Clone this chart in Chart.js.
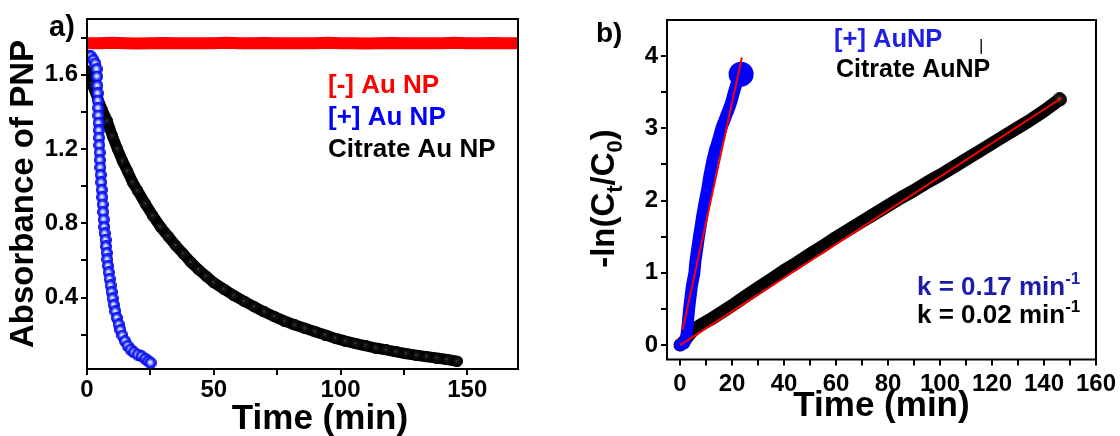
<!DOCTYPE html>
<html><head><meta charset="utf-8">
<script src="https://cdn.jsdelivr.net/npm/chart.js@4.4.1/dist/chart.umd.min.js"></script>
<style>
html,body{margin:0;padding:0;background:#fff;width:1120px;height:436px;overflow:hidden}
#wa{position:absolute;left:0;top:0;width:560px;height:436px}
#wb{position:absolute;left:560px;top:0;width:560px;height:436px}
</style></head><body>
<div id="wa"><canvas id="ca" width="560" height="436"></canvas></div>
<div id="wb"><canvas id="cb" width="560" height="436"></canvas></div>
<script>
// ---------- Panel a data ----------
const redTimeA = [0,5,10,15,20,25,30,35,40,45,50,55,60,65,70,75,80,85,90,95,100,105,110,115,120,125,130,135,140,145,150,155,160,165,170];
const redAbsA  = [1.77,1.77,1.772,1.77,1.768,1.77,1.771,1.77,1.77,1.769,1.77,1.772,1.77,1.77,1.771,1.77,1.769,1.77,1.77,1.772,1.77,1.77,1.768,1.77,1.771,1.77,1.77,1.769,1.77,1.772,1.77,1.77,1.771,1.77,1.77];
const blueTimeA = [0.5,1.5,2.5,3.3,3.8,4.0,4.1,4.2,4.3,4.4,4.5,4.6,4.7,4.8,4.9,5.0,5.1,5.3,5.4,5.6,5.8,6.0,6.2,6.4,6.6,6.8,7.0,7.3,7.5,7.8,8.0,8.3,8.6,8.9,9.3,9.7,10.1,10.6,11.2,11.8,12.5,13.2,14.0,15.0,16.0,17.2,18.5,20.0,21.5,23.0,24.2,25.1];
const blueAbsA  = [1.70,1.70,1.68,1.66,1.63,1.59,1.54,1.50,1.46,1.42,1.38,1.34,1.30,1.26,1.22,1.18,1.14,1.10,1.06,1.02,0.98,0.94,0.90,0.86,0.82,0.78,0.745,0.71,0.675,0.64,0.605,0.57,0.535,0.50,0.465,0.43,0.395,0.36,0.325,0.29,0.255,0.225,0.195,0.165,0.14,0.12,0.105,0.093,0.084,0.07,0.058,0.048];
const citTimeA = [0,2,4,6,8,10,12,14,16,18,20,23,26,29,32,35,38,41,44,47,50,54,58,62,66,70,74,78,82,86,90,94,98,102,106,110,114,118,122,126,130,134,138,142,146];
const citAbsA  = [1.62,1.55,1.48,1.41,1.35,1.27,1.20,1.135,1.08,1.02,0.975,0.905,0.84,0.78,0.73,0.68,0.635,0.59,0.55,0.515,0.48,0.445,0.41,0.38,0.35,0.322,0.297,0.273,0.252,0.234,0.216,0.198,0.18,0.165,0.152,0.14,0.128,0.118,0.107,0.097,0.089,0.081,0.074,0.066,0.057];
const xTickValsA = [0,25,50,75,100,125,150];
const xTickLabelsA = ['0','','50','','100','','150'];
const yTickValsA = [0.2,0.4,0.6,0.8,1.0,1.2,1.4,1.6,1.8];
const yTickLabelsA = ['','0.4','','0.8','','1.2','','1.6',''];

// ---------- Panel b data ----------
const blueTimeB = [0,0.5,1,1.5,2,2.5,3,3.5,4,4.5,5,5.5,6,6.5,7,7.5,8,8.5,9,9.5,10,10.5,11,11.5,12,12.5,13,13.5,14,14.5,15,15.5,16,16.5,17,17.5,18,18.5,19,19.5,20,20.5,21,21.5,22,22.5,23,23.5];
const blueLnB   = [0,0,0.01,0.02,0.05,0.14,0.3,0.5,0.65,0.8,0.9,0.99,1.18,1.3,1.43,1.55,1.66,1.78,1.88,1.98,2.07,2.16,2.28,2.38,2.47,2.56,2.63,2.71,2.76,2.82,2.88,2.95,3.01,3.06,3.1,3.15,3.2,3.24,3.29,3.34,3.4,3.47,3.53,3.59,3.65,3.71,3.74,3.75];
const citTimeB = [0,1,2,3,4,5,6,8,10,12,15,18,21,25,30,35,40,45,50,55,60,65,70,75,80,85,90,95,100,105,110,115,120,125,130,135,140,146];
const citLnB   = [0,0.03,0.07,0.12,0.16,0.2,0.23,0.28,0.32,0.36,0.43,0.5,0.57,0.67,0.79,0.91,1.03,1.14,1.26,1.37,1.49,1.6,1.71,1.82,1.93,2.04,2.14,2.25,2.35,2.46,2.57,2.68,2.79,2.9,3.01,3.12,3.24,3.4];
const fitBlueT = [1.0,23.8];
const fitBlueY = [0.21,3.98];
const fitCitT  = [0,146.8];
const fitCitY  = [0.0,3.42];
const xTickValsB = [0,10,20,30,40,50,60,70,80,90,100,110,120,130,140,150,160];
const xTickLabelsB = ['0','','20','','40','','60','','80','','100','','120','','140','','160'];
const yTickValsB = [0,0.5,1,1.5,2,2.5,3,3.5,4];
const yTickLabelsB = ['0','','1','','2','','3','','4'];

// ---------- helpers ----------
const F = '"Liberation Sans", Arial, sans-serif';
const pts = (xs, ys) => xs.map((x, i) => ({x: x, y: ys[i]}));
function sprite(r, stops) {
  const c = document.createElement('canvas'); c.width = c.height = 2 * r;
  const g = c.getContext('2d');
  const gr = g.createRadialGradient(r * 0.9, r * 0.9, 0, r, r, r);
  stops.forEach(s => gr.addColorStop(s[0], s[1]));
  g.fillStyle = gr; g.beginPath(); g.arc(r, r, r, 0, Math.PI * 2); g.fill();
  return c;
}
const spriteBlue = sprite(6, [[0,'#ffffff'],[0.28,'#b8c0ff'],[0.6,'#2030ff'],[1,'#0000e0']]);
const spriteBlack = sprite(5.5, [[0,'#5a5a5a'],[0.25,'#151515'],[1,'#000']]);
const spriteBlackEnd = sprite(7, [[0,'#9a9a9a'],[0.3,'#222'],[1,'#000']]);
const endOnly = (n, r) => Array.from({length: n}, (_, i) => i === n - 1 ? r : 0);

function drawRuns(ctx, runs, x, y, align) {
  let w = 0;
  runs.forEach(r => { ctx.font = r.font; w += ctx.measureText(r.t).width; });
  let cx = align === 'center' ? x - w / 2 : x;
  ctx.textAlign = 'left'; ctx.textBaseline = 'alphabetic';
  runs.forEach(r => { ctx.font = r.font; ctx.fillStyle = r.color; ctx.fillText(r.t, cx, y + (r.dy || 0)); cx += ctx.measureText(r.t).width; });
}
function frame(chart) {
  const a = chart.chartArea, ctx = chart.ctx;
  ctx.save(); ctx.strokeStyle = '#000'; ctx.lineWidth = 2;
  ctx.strokeRect(a.left, a.top, a.right - a.left, a.bottom - a.top); ctx.restore();
}
const B = (s) => 'bold ' + s + 'px ' + F;

const annA = { id: 'annA', afterDraw(chart) {
  const ctx = chart.ctx; frame(chart); ctx.save();
  drawRuns(ctx, [{t:'a)', font:B(29), color:'#000'}], 49, 36);
  drawRuns(ctx, [{t:'[-] Au NP', font:B(26), color:'#ff0000'}], 328, 93);
  drawRuns(ctx, [{t:'[+] Au NP', font:B(26), color:'#0000ff'}], 328, 124.5);
  drawRuns(ctx, [{t:'Citrate Au NP', font:B(26), color:'#000'}], 328, 156.5);
  drawRuns(ctx, [{t:'Time (min)', font:B(35), color:'#000'}], 320, 429, 'center');
  ctx.restore();
}};
const annB = { id: 'annB', afterDraw(chart) {
  const ctx = chart.ctx; frame(chart); ctx.save();
  drawRuns(ctx, [{t:'b)', font:B(28), color:'#000'}], 36, 42);
  drawRuns(ctx, [{t:'[+] AuNP', font:B(25.5), color:'#1e1ee6'}], 274, 46.7);
  drawRuns(ctx, [{t:'|', font:'17px ' + F, color:'#000'}], 419, 51);
  drawRuns(ctx, [{t:'Citrate AuNP', font:B(25), color:'#000'}], 276, 77);
  drawRuns(ctx, [{t:'k = 0.17 min', font:B(26), color:'#1c1ca8'}, {t:'-1', font:B(17), color:'#1c1ca8', dy:-11}], 357, 295);
  drawRuns(ctx, [{t:'k = 0.02 min', font:B(26), color:'#000'}, {t:'-1', font:B(17), color:'#000', dy:-11}], 357, 323.3);
  ctx.translate(54, 198.5); ctx.rotate(-Math.PI / 2);
  drawRuns(ctx, [{t:'-ln(C', font:B(33), color:'#000'}, {t:'t', font:B(22), color:'#000', dy:8},
                 {t:'/C', font:B(33), color:'#000'}, {t:'0', font:B(22), color:'#000', dy:8},
                 {t:')', font:B(33), color:'#000'}], 0, 0, 'center');
  ctx.restore();
}};

function axisX(min, max, vals, labels, h, pad, title) {
  return { type:'linear', min:min, max:max,
    afterBuildTicks: s => { s.ticks = vals.map(v => ({value:v})); },
    afterFit: s => { s.height = h; },
    ticks: { callback: (v, i) => labels[i], font:{family:F, size:24, weight:'bold', lineHeight:1.2}, color:'#000', padding:pad, maxRotation:0, autoSkip:false },
    grid: { drawOnChartArea:false, drawTicks:true, tickLength:6, tickWidth:2, lineWidth:2, tickColor:'#000', color:'#000' },
    border: { display:false },
    title: title || { display:false } };
}
function axisY(min, max, vals, labels, w, title) {
  return { type:'linear', min:min, max:max,
    afterBuildTicks: s => { s.ticks = vals.map(v => ({value:v})); },
    afterFit: s => { s.width = w; },
    ticks: { callback: (v, i) => labels[i], font:{family:F, size:24, weight:'bold', lineHeight:1.2}, color:'#000', padding:3, autoSkip:false },
    grid: { drawOnChartArea:false, drawTicks:true, tickLength:6, tickWidth:2, lineWidth:2, tickColor:'#000', color:'#000' },
    border: { display:false },
    title: title || { display:false } };
}
const common = { responsive:false, animation:false, devicePixelRatio:1,
  plugins:{ legend:{display:false}, tooltip:{enabled:false} } };

new Chart(document.getElementById('ca'), {
  type: 'scatter',
  data: { datasets: [
    { label:'[+] Au NP', data: pts(blueTimeA, blueAbsA), showLine:false, pointStyle: spriteBlue, pointRadius:6, order:0 },
    { label:'Citrate Au NP', data: pts(citTimeA, citAbsA), showLine:true, borderColor:'#000', borderWidth:11, borderJoinStyle:'round', borderCapStyle:'round', tension:0, pointStyle: spriteBlack, pointRadius:5, order:1 },
    { label:'[-] Au NP', data: pts(redTimeA, redAbsA), showLine:true, borderColor:'#ff0000', borderWidth:12, tension:0, pointRadius:0, order:2 }
  ]},
  options: Object.assign({}, common, {
    layout: { padding: { left:0, right:42, top:19, bottom:0 } },
    scales: {
      x: axisX(0, 170, xTickValsA, xTickLabelsA, 67, 1),
      y: axisY(0.015, 1.9, yTickValsA, yTickLabelsA, 87,
        { display:true, text:'Absorbance of PNP', color:'#000', font:{family:F, size:33, weight:'bold', lineHeight:1}, padding:{top:7, bottom:0} })
    }
  }),
  plugins: [annA]
});

new Chart(document.getElementById('cb'), {
  type: 'scatter',
  data: { datasets: [
    { label:'fit [+]', data: pts(fitBlueT, fitBlueY), showLine:true, borderColor:'#ff0000', borderWidth:2, pointRadius:0, order:0 },
    { label:'fit citrate', data: pts(fitCitT, fitCitY), showLine:true, borderColor:'#ff0000', borderWidth:2, pointRadius:0, order:0 },
    { label:'[+] AuNP', data: pts(blueTimeB, blueLnB), showLine:true, borderColor:'#0000ff', borderWidth:12, borderJoinStyle:'round', borderCapStyle:'round', tension:0, pointStyle:'circle', pointRadius: endOnly(blueTimeB.length, 6.5), pointBackgroundColor:'#0000ff', pointBorderColor:'#0000ff', order:1 },
    { label:'Citrate AuNP', data: pts(citTimeB, citLnB), showLine:true, borderColor:'#000', borderWidth:13, borderJoinStyle:'round', borderCapStyle:'round', tension:0, pointStyle: spriteBlackEnd, pointRadius: endOnly(citTimeB.length, 7), order:2 }
  ]},
  options: Object.assign({}, common, {
    layout: { padding: { left:0, right:24, top:19, bottom:0 } },
    scales: {
      x: axisX(-5, 160, xTickValsB, xTickLabelsB, 76.5, 4,
        { display:true, text:'Time (min)', color:'#000', font:{family:F, size:35, weight:'bold', lineHeight:1}, padding:{top:0, bottom:12} }),
      y: axisY(-0.2, 4.5, yTickValsB, yTickLabelsB, 107)
    }
  }),
  plugins: [annB]
});
</script>
</body></html>
